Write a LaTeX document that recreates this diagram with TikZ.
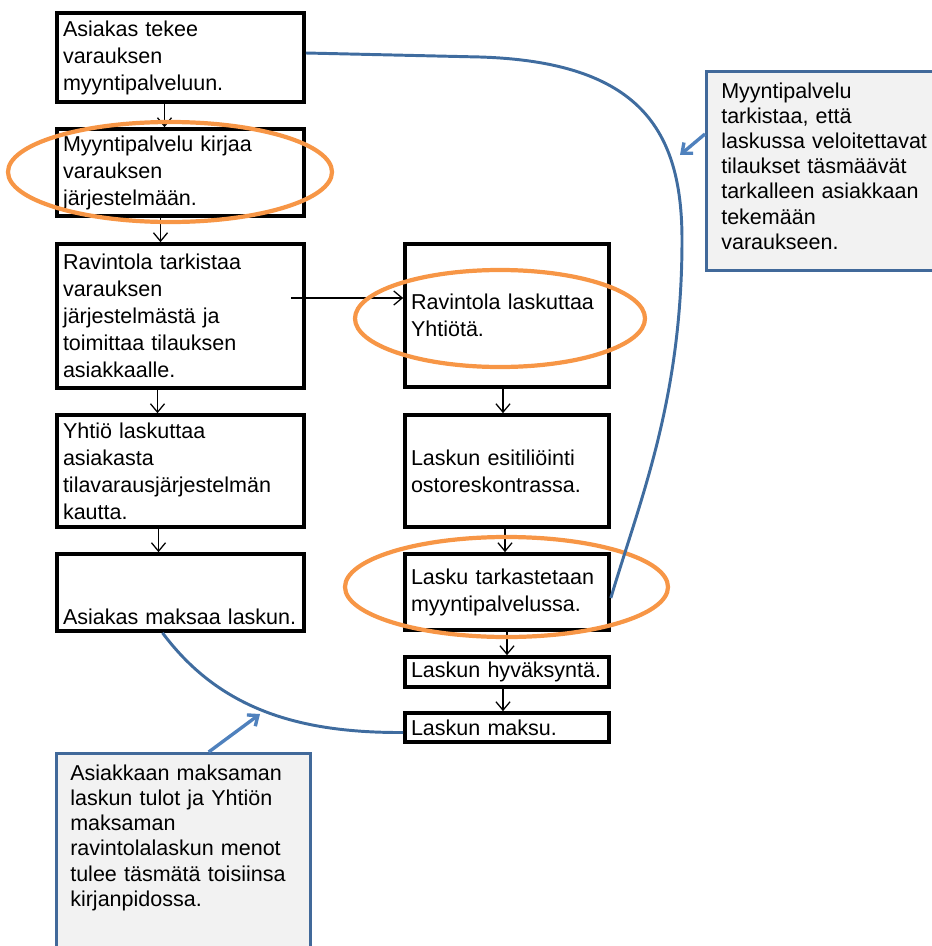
\documentclass[tikz,border=0pt]{standalone}
\usepackage{fontspec}
\setmainfont{Liberation Sans}
\usetikzlibrary{arrows.meta}
\newcommand\pxu{0.025cm}
\definecolor{ringorange}{HTML}{F79646}
\definecolor{linkblue}{HTML}{3F6C9F}
\definecolor{calloutblue}{HTML}{4F81BD}
\definecolor{noteborder}{HTML}{41699A}
\definecolor{notefill}{HTML}{F2F2F2}
\tikzset{
  box/.style={draw, line width=2.6pt, align=left, inner xsep=6*\pxu, inner ysep=0pt,
    font=\fontsize{15.3}{19.2}\selectfont},
  lbox/.style={box, text width=235*\pxu},
  rbox/.style={box, text width=192*\pxu},
  flow/.style={line width=0.9pt, -{Straight Barb[length=6pt,width=10pt]}},
  ring/.style={draw=ringorange, line width=3pt},
  link/.style={draw=linkblue, line width=2.1pt},
  callout/.style={draw=calloutblue, line width=2.4pt, -{Straight Barb[length=6pt,width=10pt]}},
  note/.style={draw=noteborder, fill=notefill, line width=2.4pt, inner sep=0pt},
  notetext/.style={align=left, inner sep=0pt, font=\fontsize{15.3}{17.8}\selectfont}
}
\begin{document}
\begin{tikzpicture}[x=0.025cm, y=-0.025cm]
\useasboundingbox (0,0) rectangle (932,946);
% left column
\node[lbox, minimum height=89*\pxu] (a1) at (180.5,57.5) {Asiakas tekee\\varauksen\\myyntipalveluun.};
\node[lbox, minimum height=87*\pxu] (a2) at (180.5,172.5) {Myyntipalvelu kirjaa\\varauksen\\järjestelmään.};
\node[lbox, minimum height=144*\pxu] (a3) at (180.5,316) {Ravintola tarkistaa\\varauksen\\järjestelmästä ja\\toimittaa tilauksen\\asiakkaalle.};
\node[lbox, minimum height=112*\pxu] (a4) at (180.5,471) {Yhtiö laskuttaa\\asiakasta\\tilavarausjärjestelmän\\kautta.};
\node[lbox, minimum height=77*\pxu] (a5) at (180.5,592.5) {\mbox{}\\[27pt]Asiakas maksaa laskun.};
% right column
\node[rbox, minimum height=143*\pxu] (b1) at (507,315.5) {Ravintola laskuttaa\\Yhtiötä.};
\node[rbox, minimum height=112*\pxu] (b2) at (507,471) {Laskun esitiliöinti\\ostoreskontrassa.};
\node[rbox, minimum height=76*\pxu] (b3) at (507,592) {Lasku tarkastetaan\\myyntipalvelussa.};
\node[rbox, minimum height=30*\pxu] (b4) at (507,672) {Laskun hyväksyntä.};
\node[rbox, minimum height=29*\pxu] (b5) at (507,727.5) {Laskun maksu.};
% flow arrows
\foreach \s/\t/\d in {a1/a2/-16, a2/a3/-20, a3/a4/-23, a4/a5/-22, b1/b2/-4, b2/b3/-2, b3/b4/0, b4/b5/-4}
  \draw[flow] ([xshift=\d*\pxu]\s.south) -- ([xshift=\d*\pxu]\t.north);
\coordinate (a3in) at (291,298);
\draw[flow] (a3in) -- (a3in -| b1.west);
% highlights
\draw[ring] (170,172) ellipse [x radius=162, y radius=50];
\draw[ring] (500,318.5) ellipse [x radius=145, y radius=48.5];
\draw[ring] (506.5,587) ellipse [x radius=161.5, y radius=50];
% links
\draw[link] ([yshift=4.5*\pxu]a1.east) -- (480,57) .. controls (640,62) and (682,130) .. (682,240)
  .. controls (682,400) and (640,500) .. ([yshift=-6*\pxu]b3.east);
\draw[link] ([xshift=-18*\pxu]a5.south) .. controls (220,710) and (300,733) .. ([yshift=-5*\pxu]b5.west);
% notes
\node[note, minimum width=240*\pxu, minimum height=199*\pxu, anchor=north west] (n1) at (705,70) {};
\node[notetext, text width=215*\pxu, anchor=north west] (n1txt) at (721,83) {Myyntipalvelu\\tarkistaa, että\\laskussa veloitettavat\\tilaukset täsmäävät\\tarkalleen asiakkaan\\tekemään\\varaukseen.};
\node[note, minimum width=254*\pxu, minimum height=240*\pxu, anchor=north west] (n2) at (55,752) {};
\node[notetext, text width=225*\pxu, anchor=north west] (n2txt) at (70,765) {Asiakkaan maksaman\\laskun tulot ja Yhtiön\\maksaman\\ravintolalaskun menot\\tulee täsmätä toisiinsa\\kirjanpidossa.};
\coordinate (n1tip) at (680,155);
\coordinate (n2tip) at (260,714);
\draw[callout] (n1.163) -- (n1tip);
\draw[callout] ([xshift=25*\pxu]n2.north) -- (n2tip);
\end{tikzpicture}
\end{document}
